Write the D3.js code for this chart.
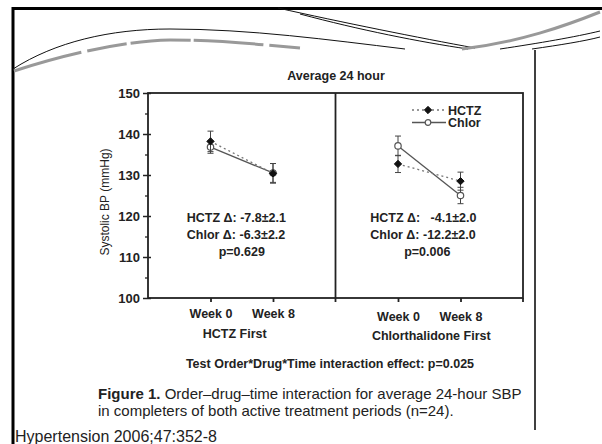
<!DOCTYPE html>
<html>
<head>
<meta charset="utf-8">
<script src="https://cdn.jsdelivr.net/npm/d3@7"></script>
<style>
  body { margin: 0; background: #fff; }
  text { font-family: "Liberation Sans", Arial, sans-serif; fill: #222; }
</style>
</head>
<body>
<div id="viz"></div>
<script>
// data
const panels = ["HCTZ First", "Chlorthalidone First"];
const weeks = ["Week 0", "Week 8"];
const yTicks = [100, 110, 120, 130, 140, 150];

const hctzMean = [[138.2, 130.4], [132.7, 128.5]];
const hctzErr = [[2.5, 2.4], [2.1, 2.2]];
const chlorMean = [[136.8, 130.5], [137.1, 125.0]];
const chlorErr = [[1.5, 2.3], [2.4, 2.0]];

const hctzDelta = ["-7.8±2.1", "-4.1±2.0"];
const chlorDelta = ["-6.3±2.2", "-12.2±2.0"];
const pValues = ["p=0.629", "p=0.006"];

const width = 602;
const height = 444;
const font = "Liberation Sans, Arial, sans-serif";

const svg = d3.select("#viz").append("svg")
    .attr("width", width)
    .attr("height", height);

// slide frame
svg.append("line").attr("x1", 12).attr("x2", width).attr("y1", 8.5).attr("y2", 8.5)
    .attr("stroke", "#000").attr("stroke-width", 3);
svg.append("line").attr("x1", 13).attr("x2", 13).attr("y1", 7).attr("y2", height)
    .attr("stroke", "#000").attr("stroke-width", 3);

// theme swooshes at the top of the slide
const deco = svg.append("g").attr("fill", "none");
deco.append("path").attr("d", "M13,69 C55,42 110,29 170,29 C250,29 330,40 405,49")
    .attr("stroke", "#111").attr("stroke-width", 1);
deco.append("path").attr("d", "M14,71 C60,56 120,41 170,40 C220,40 265,45 300,48")
    .attr("stroke", "#999").attr("stroke-width", 3).attr("stroke-dasharray", "70,6,40,4,60,3");
deco.append("path").attr("d", "M278,8 C340,22 420,38 475,48")
    .attr("stroke", "#111").attr("stroke-width", 1);
deco.append("path").attr("d", "M300,14 C360,30 420,42 468,49")
    .attr("stroke", "#111").attr("stroke-width", 1);
deco.append("path").attr("d", "M462,49 C520,42 565,26 600,12")
    .attr("stroke", "#999").attr("stroke-width", 3);
deco.append("path").attr("d", "M500,49 C540,43 575,37 600,31")
    .attr("stroke", "#111").attr("stroke-width", 1);
deco.append("path").attr("d", "M532,49 C560,45 585,41 600,37")
    .attr("stroke", "#111").attr("stroke-width", 1);

// figure picture right edge
svg.append("line").attr("x1", 535).attr("x2", 535).attr("y1", 50).attr("y2", 430)
    .attr("stroke", "#000").attr("stroke-width", 1.5);

// scales
const x = d3.scaleBand().domain(panels).range([148, 523]).padding(0);
const xi = d3.scalePoint().domain(weeks).range([0, x.bandwidth()]).padding(1);
const y = d3.scaleLinear().domain([100, 150]).range([298, 93]);

svg.append("text").attr("x", 336).attr("y", 79.5).attr("text-anchor", "middle")
    .attr("font-size", 12.5).attr("font-weight", "bold").text("Average 24 hour");

// y axis with minor ticks
svg.append("g").attr("transform", "translate(148,0)")
    .call(d3.axisLeft(y).tickValues(d3.range(105, 150, 10)).tickSize(3).tickFormat(""))
    .call(g => g.select(".domain").remove())
    .selectAll("line").attr("stroke", "#222").attr("stroke-width", 1.3);
svg.append("g").attr("transform", "translate(148,0)")
    .call(d3.axisLeft(y).tickValues(yTicks).tickSizeInner(5).tickSizeOuter(0).tickPadding(3))
    .call(g => g.select(".domain").remove())
    .call(g => g.selectAll("line").attr("x2", 3).attr("x1", -5).attr("stroke", "#222").attr("stroke-width", 1.5))
    .call(g => g.selectAll("text").attr("font-size", 13).attr("font-weight", "bold")
        .attr("font-family", font).attr("fill", "#222"));

svg.append("text")
    .attr("transform", "translate(109,202) rotate(-90)")
    .attr("text-anchor", "middle").attr("font-size", 12).attr("fill", "#333")
    .text("Systolic BP (mmHg)");

// frame around both panels
const frame = svg.append("g").attr("stroke", "#222").attr("stroke-width", 1.8).attr("fill", "none");
frame.append("rect").attr("x", x.range()[0]).attr("y", y(150))
    .attr("width", x.range()[1] - x.range()[0]).attr("height", y(100) - y(150));
frame.append("line").attr("x1", x(panels[1])).attr("x2", x(panels[1]))
    .attr("y1", y(150)).attr("y2", y(100) + 4);
frame.append("line").attr("x1", x.range()[1]).attr("x2", x.range()[1])
    .attr("y1", y(100)).attr("y2", y(100) + 4);

const line = d3.line().x(d => d[0]).y(d => y(d[1]));
const diamond = d3.symbol().type(d3.symbolDiamond2).size(34);

panels.forEach((p, i) => {
    const g = svg.append("g").attr("transform", `translate(${x(p)},0)`);

    // bottom axis of the panel
    g.append("g").attr("transform", `translate(0,${y(100)})`)
        .call(d3.axisBottom(xi).tickSizeInner(4).tickSizeOuter(0).tickPadding(i === 0 ? 7 : 10))
        .call(a => a.select(".domain").remove())
        .call(a => a.selectAll("line").attr("stroke", "#222").attr("stroke-width", 1.8))
        .call(a => a.selectAll("text").attr("font-size", 12.5).attr("font-weight", "bold")
            .attr("font-family", font).attr("fill", "#222"));

    g.append("text").attr("x", x.bandwidth() / 2 - (i === 0 ? 7 : -2)).attr("y", i === 0 ? 338 : 340)
        .attr("text-anchor", "middle").attr("font-size", 12.5).attr("font-weight", "bold")
        .text(p);

    const series = [
        {mean: chlorMean[i], err: chlorErr[i], dash: null, fill: "#fff", stroke: "#555", shape: "circle"},
        {mean: hctzMean[i], err: hctzErr[i], dash: "2,3", fill: "#111", stroke: "#111", shape: "diamond"}
    ];

    series.forEach(s => {
        const pts = weeks.map((w, j) => [xi(w), s.mean[j]]);
        g.append("path").attr("d", line(pts)).attr("fill", "none")
            .attr("stroke", s.dash ? "#777" : "#555").attr("stroke-width", 1.3)
            .attr("stroke-dasharray", s.dash);

        const eb = g.append("g").selectAll("g").data(pts).enter().append("g")
            .attr("stroke", "#444").attr("stroke-width", 1);
        eb.append("line").attr("x1", d => d[0]).attr("x2", d => d[0])
            .attr("y1", (d, j) => y(d[1] + s.err[j])).attr("y2", (d, j) => y(d[1] - s.err[j]));
        eb.append("line").attr("x1", d => d[0] - 3).attr("x2", d => d[0] + 3)
            .attr("y1", (d, j) => y(d[1] + s.err[j])).attr("y2", (d, j) => y(d[1] + s.err[j]));
        eb.append("line").attr("x1", d => d[0] - 3).attr("x2", d => d[0] + 3)
            .attr("y1", (d, j) => y(d[1] - s.err[j])).attr("y2", (d, j) => y(d[1] - s.err[j]));

        if (s.shape === "diamond") {
            g.append("g").selectAll("path").data(pts).enter().append("path")
                .attr("d", diamond)
                .attr("transform", d => `translate(${d[0]},${y(d[1])})`)
                .attr("fill", s.fill).attr("stroke", s.stroke).attr("stroke-width", 1);
        } else {
            g.append("g").selectAll("circle").data(pts).enter().append("circle")
                .attr("cx", d => d[0]).attr("cy", d => y(d[1]))
                .attr("r", 3.2).attr("fill", s.fill).attr("stroke", s.stroke).attr("stroke-width", 1.2);
        }
    });

    // change annotations
    const c = x.bandwidth() / 2;
    const left = c - (i === 0 ? 55 : 59);
    const ann = g.append("g").attr("font-size", 12.5).attr("font-weight", "bold");
    ann.append("text").attr("x", left).attr("y", 222)
        .attr("font-size", 12.5).attr("font-weight", "bold")
        .text("HCTZ Δ: " + (i === 1 ? "\u00a0\u00a0" : "") + hctzDelta[i]);
    ann.append("text").attr("x", left).attr("y", 238.5)
        .attr("font-size", 12.5).attr("font-weight", "bold")
        .text("Chlor Δ: " + chlorDelta[i]);
    ann.append("text").attr("x", c + (i === 0 ? 0 : -2)).attr("y", 256).attr("text-anchor", "middle")
        .attr("font-size", 12.5).attr("font-weight", "bold")
        .text(pValues[i]);
});

// legend
const legendData = [
    {name: "HCTZ", dash: "2,3", fill: "#111", stroke: "#111", shape: "diamond"},
    {name: "Chlor", dash: null, fill: "#fff", stroke: "#555", shape: "circle"}
];
const legend = svg.append("g").selectAll("g").data(legendData).enter().append("g")
    .attr("transform", (d, i) => `translate(412,${110 + i * 12.5})`);
legend.append("line").attr("x1", 0).attr("x2", 34)
    .attr("stroke", d => d.dash ? "#777" : "#555").attr("stroke-width", 1.3)
    .attr("stroke-dasharray", d => d.dash);
legend.filter(d => d.shape === "diamond").append("path")
    .attr("d", diamond).attr("transform", "translate(16,0)")
    .attr("fill", d => d.fill).attr("stroke", d => d.stroke).attr("stroke-width", 1);
legend.filter(d => d.shape === "circle").append("circle").attr("cx", 16).attr("r", 2.8)
    .attr("fill", d => d.fill).attr("stroke", d => d.stroke).attr("stroke-width", 1.2);
legend.append("text").attr("x", 36).attr("y", 4.5).attr("font-size", 12.5).attr("font-weight", "bold")
    .text(d => d.name);

// notes and caption
svg.append("text").attr("x", 330).attr("y", 368).attr("text-anchor", "middle")
    .attr("font-size", 12.5).attr("font-weight", "bold")
    .text("Test Order*Drug*Time interaction effect:  p=0.025");

const cap = svg.append("text").attr("font-size", 15).attr("fill", "#333");
const l1 = cap.append("tspan").attr("x", 98).attr("y", 399);
l1.append("tspan").attr("font-weight", "bold").attr("fill", "#222").text("Figure 1.");
l1.append("tspan").text(" Order–drug–time interaction for average 24-hour SBP");
cap.append("tspan").attr("x", 98).attr("y", 416)
    .text("in completers of both active treatment periods (n=24).");

svg.append("text").attr("x", 15).attr("y", 442).attr("font-size", 16).attr("fill", "#111")
    .text("Hypertension 2006;47:352-8");
</script>
</body>
</html>
